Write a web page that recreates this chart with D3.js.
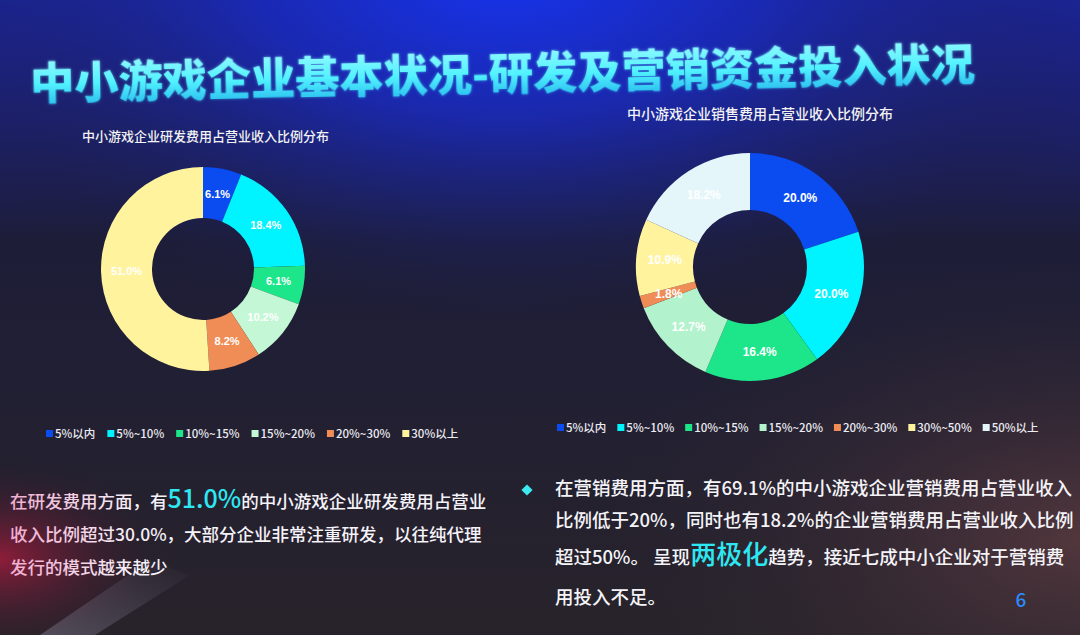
<!DOCTYPE html>
<html><head><meta charset="utf-8">
<script src="https://cdn.jsdelivr.net/npm/d3@7/dist/d3.min.js"></script>
<style>
html,body{margin:0;padding:0;background:#1e1d2a;}
svg{display:block;font-family:"Noto Sans CJK SC","Noto Sans",sans-serif;}
</style></head>
<body>
<svg id="chart" width="1080" height="635"></svg>
<script>
// ---- data ----
const mainTitle = "中小游戏企业基本状况-研发及营销资金投入状况";
const rdTitle = "中小游戏企业研发费用占营业收入比例分布";
const rdCategories = ["5%以内", "5%~10%", "10%~15%", "15%~20%", "20%~30%", "30%以上"];
const rdValues = [6.1, 18.4, 6.1, 10.2, 8.2, 51.0];
const rdColors = ["#0a4cf0", "#00f4ff", "#1de68a", "#c4f7d6", "#f08c55", "#fff39e"];

const mkTitle = "中小游戏企业销售费用占营业收入比例分布";
const mkCategories = ["5%以内", "5%~10%", "10%~15%", "15%~20%", "20%~30%", "30%~50%", "50%以上"];
const mkValues = [20.0, 20.0, 16.4, 12.7, 1.8, 10.9, 18.2];
const mkColors = ["#0a4cf0", "#00f4ff", "#1de68a", "#b2f2cc", "#f08c55", "#fff39e", "#e4f6fa"];

const leftText = [
  [["在研发费用方面，有", false], ["51.0%", true], ["的中小游戏企业研发费用占营业", false]],
  [["收入比例超过30.0%，大部分企业非常注重研发，以往纯代理", false]],
  [["发行的模式越来越少", false]]
];
const rightText = [
  [["在营销费用方面，有69.1%的中小游戏企业营销费用占营业收入", false]],
  [["比例低于20%，同时也有18.2%的企业营销费用占营业收入比例", false]],
  [["超过50%。 呈现", false], ["两极化", true], ["趋势，接近七成中小企业对于营销费", false]],
  [["用投入不足。", false]]
];
const pageNumber = "6";

// ---- drawing ----
const svg = d3.select("#chart");
const W = 1080, H = 635;
const defs = svg.append("defs");

// background
const bgBase = defs.append("linearGradient").attr("id", "bgBase").attr("x1", 0).attr("y1", 0).attr("x2", 0).attr("y2", 1);
bgBase.append("stop").attr("offset", "0%").attr("stop-color", "#1a24a0");
bgBase.append("stop").attr("offset", "18%").attr("stop-color", "#1c2070");
bgBase.append("stop").attr("offset", "38%").attr("stop-color", "#1d1d38");
bgBase.append("stop").attr("offset", "100%").attr("stop-color", "#28232a");
const bgTop = defs.append("radialGradient").attr("id", "bgTop")
  .attr("cx", 0.47).attr("cy", -0.05).attr("r", 0.6);
bgTop.append("stop").attr("offset", "0%").attr("stop-color", "#1634f0").attr("stop-opacity", 1);
bgTop.append("stop").attr("offset", "40%").attr("stop-color", "#1a2ab8").attr("stop-opacity", 0.8);
bgTop.append("stop").attr("offset", "100%").attr("stop-color", "#1e1d2a").attr("stop-opacity", 0);
const bgRed = defs.append("radialGradient").attr("id", "bgRed")
  .attr("cx", 0).attr("cy", 0.88).attr("r", 0.16);
bgRed.append("stop").attr("offset", "0%").attr("stop-color", "#a01c3c").attr("stop-opacity", 0.85);
bgRed.append("stop").attr("offset", "100%").attr("stop-color", "#2a1c2a").attr("stop-opacity", 0);
const bgRight = defs.append("radialGradient").attr("id", "bgRight")
  .attr("cx", 1.0).attr("cy", 0.85).attr("r", 0.45);
bgRight.append("stop").attr("offset", "0%").attr("stop-color", "#5a3a40").attr("stop-opacity", 0.85);
bgRight.append("stop").attr("offset", "100%").attr("stop-color", "#2a2530").attr("stop-opacity", 0);

svg.append("rect").attr("width", W).attr("height", H).attr("fill", "url(#bgBase)");
svg.append("rect").attr("width", W).attr("height", H).attr("fill", "url(#bgTop)");
svg.append("rect").attr("width", W).attr("height", H).attr("fill", "url(#bgRight)");
svg.append("rect").attr("width", W).attr("height", H).attr("fill", "url(#bgRed)");
const streak = defs.append("linearGradient").attr("id", "streak").attr("x1", 0).attr("y1", 1).attr("x2", 1).attr("y2", 0);
streak.append("stop").attr("offset", "0%").attr("stop-color", "#9a9ab0").attr("stop-opacity", 0.35);
streak.append("stop").attr("offset", "100%").attr("stop-color", "#9a9ab0").attr("stop-opacity", 0);
svg.append("path").attr("d", "M40,635 L150,560 L190,575 L95,635 Z").attr("fill", "url(#streak)");

// main title
const tGrad = defs.append("linearGradient").attr("id", "titleGrad").attr("x1", 0).attr("y1", 0).attr("x2", 0).attr("y2", 1);
tGrad.append("stop").attr("offset", "0%").attr("stop-color", "#a8fbff");
tGrad.append("stop").attr("offset", "55%").attr("stop-color", "#52f2ff");
tGrad.append("stop").attr("offset", "100%").attr("stop-color", "#1fb0ea");
const glow = defs.append("filter").attr("id", "glow").attr("x", "-5%").attr("y", "-30%").attr("width", "110%").attr("height", "160%");
glow.append("feGaussianBlur").attr("in", "SourceGraphic").attr("stdDeviation", 1.6).attr("result", "b");
glow.append("feComponentTransfer").attr("in", "b").attr("result", "b2")
  .append("feFuncA").attr("type", "linear").attr("slope", 0.6);
const fm = glow.append("feMerge");
fm.append("feMergeNode").attr("in", "b2");
fm.append("feMergeNode").attr("in", "SourceGraphic");
svg.append("text")
  .attr("x", 30).attr("y", 90)
  .attr("transform", "rotate(-1.2,502,72)")
  .attr("font-size", 44).attr("font-weight", 900)
  .attr("textLength", 945).attr("lengthAdjust", "spacingAndGlyphs")
  .attr("fill", "url(#titleGrad)")
  .attr("filter", "url(#glow)")
  .text(mainTitle);

function donut(cfg) {
  const g = svg.append("g");
  g.append("text")
    .attr("x", cfg.titleX).attr("y", cfg.titleY)
    .attr("font-size", cfg.titleSize).attr("font-weight", 500).attr("fill", "#f2f2f2")
    .text(cfg.title);
  const data = cfg.categories.map((c, i) => ({cat: c, value: cfg.values[i], color: cfg.colors[i]}));
  const pie = d3.pie().sort(null).value(d => d.value);
  const arc = d3.arc().innerRadius(cfg.r0).outerRadius(cfg.r1);
  const labelArc = d3.arc().innerRadius((cfg.r0 + cfg.r1) / 2).outerRadius((cfg.r0 + cfg.r1) / 2);
  const pg = g.append("g").attr("transform", `translate(${cfg.cx},${cfg.cy})`);
  const arcs = pie(data);
  pg.selectAll("path").data(arcs).join("path")
    .attr("d", arc).attr("fill", d => d.data.color);
  pg.selectAll("text").data(arcs).join("text")
    .attr("transform", d => `translate(${labelArc.centroid(d)})`)
    .attr("text-anchor", "middle").attr("dy", "0.35em")
    .attr("font-family", "'Liberation Sans',Arial,sans-serif")
    .attr("font-weight", "bold").attr("font-size", cfg.labelSize)
    .attr("fill", "#ffffff")
    .text(d => d.data.value.toFixed(1) + "%");

  // legend
  const lg = g.append("g").attr("transform", `translate(${cfg.legX},${cfg.legY})`);
  let x = 0;
  data.forEach(d => {
    const it = lg.append("g").attr("transform", `translate(${x},0)`);
    it.append("rect").attr("x", 0).attr("y", -4).attr("width", 7).attr("height", 7).attr("fill", d.color);
    const t = it.append("text").attr("x", 9).attr("y", 0).attr("dy", "0.35em")
      .attr("font-size", 11.5).attr("font-weight", 500).attr("fill", "#ececf2").text(d.cat);
    x += 9 + t.node().getComputedTextLength() + cfg.legGap;
  });
}

donut({title: rdTitle, titleX: 82, titleY: 141, titleSize: 13,
  categories: rdCategories, values: rdValues, colors: rdColors,
  cx: 203, cy: 269, r0: 51, r1: 102, labelSize: 11,
  legX: 46, legY: 434, legGap: 12});
donut({title: mkTitle, titleX: 627, titleY: 119, titleSize: 14,
  categories: mkCategories, values: mkValues, colors: mkColors,
  cx: 750, cy: 267, r0: 57, r1: 114, labelSize: 12,
  legX: 557, legY: 428, legGap: 11});

// paragraph text
const leftGrad = defs.append("linearGradient").attr("id", "leftGrad")
  .attr("gradientUnits", "userSpaceOnUse").attr("x1", 0).attr("y1", 0).attr("x2", 140).attr("y2", 0);
leftGrad.append("stop").attr("offset", "0%").attr("stop-color", "#f0a8cc");
leftGrad.append("stop").attr("offset", "100%").attr("stop-color", "#f4f4f8");

function paragraph(lines, x, ys, size, bigSize, fill) {
  lines.forEach((parts, i) => {
    const t = svg.append("text").attr("x", x).attr("y", ys[i])
      .attr("font-size", size).attr("font-weight", 500).attr("fill", fill);
    parts.forEach(([s, big]) => {
      const sp = t.append("tspan").text(s);
      if (big) sp.attr("font-size", bigSize).attr("fill", "#2de8f2");
    });
  });
}
paragraph(leftText, 10, [508, 541, 574], 17.5, 25, "url(#leftGrad)");
paragraph(rightText, 555, [495, 527, 564, 604], 18.5, 26, "#f4f4f8");

// diamond bullet
svg.append("path").attr("d", d3.symbol(d3.symbolDiamond2, 80)())
  .attr("transform", "translate(527,490)").attr("fill", "#3de8f0");

// page number
svg.append("text").attr("x", 1021).attr("y", 607).attr("text-anchor", "middle")
  .attr("font-size", 19).attr("font-weight", 500).attr("fill", "#2a8cff").text(pageNumber);
</script>
</body></html>
